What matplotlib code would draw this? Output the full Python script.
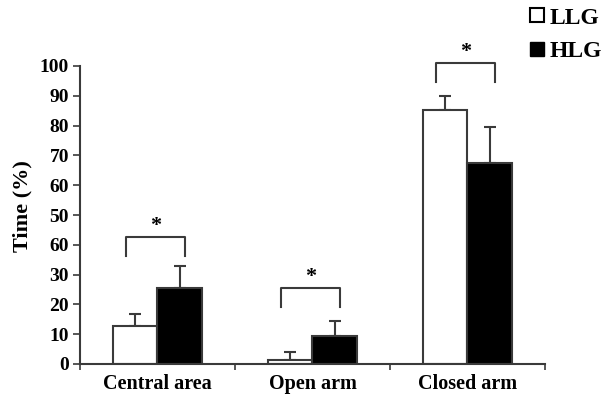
import numpy as np
import matplotlib
matplotlib.use('Agg')
import matplotlib.pyplot as plt
from matplotlib.lines import Line2D

plt.rcParams['font.family'] = 'Liberation Serif'
plt.rcParams['font.weight'] = 'bold'

# data
groups = ['Central area', 'Open arm', 'Closed arm']
llg = [12.8, 1.3, 85.2]
llg_err = [4.0, 2.7, 4.8]
hlg = [25.5, 9.4, 67.4]
hlg_err = [7.4, 5.0, 12.1]
yticks = [0, 10, 20, 30, 40, 50, 60, 70, 80, 90, 100]
ytick_labels = ['0', '10', '20', '30', '60', '50', '60', '70', '80', '90', '100']
# significance brackets, top height per group
bracket_top = [42.5, 25.5, 101.0]
bracket_drop = 6.3

edge = '#3a3a3a'
fig = plt.figure(figsize=(6.09, 3.98), dpi=100)
ax = fig.add_axes([80/609, 1-364/398, 465/609, 298/398])

x = np.arange(len(groups))
w = 0.29
ax.bar(x - w/2, llg, w, color='white', edgecolor=edge, linewidth=1.5, zorder=2)
ax.bar(x + w/2, hlg, w, color='black', edgecolor=edge, linewidth=1.5, zorder=2)
ax.errorbar(x - w/2, llg, yerr=[np.zeros(3), llg_err], fmt='none', ecolor=edge,
            elinewidth=1.5, capsize=4, capthick=1.5, zorder=1)
ax.errorbar(x + w/2, hlg, yerr=[np.zeros(3), hlg_err], fmt='none', ecolor=edge,
            elinewidth=1.5, capsize=4, capthick=1.5, zorder=1)

for xi, top in zip(x, bracket_top):
    xl, xr = xi - 0.2, xi + 0.18
    ax.plot([xl, xl, xr, xr], [top - bracket_drop, top, top, top - bracket_drop],
            color=edge, lw=1.5, clip_on=False)
    ax.text((xl + xr)/2, top + 0.3, '*', ha='center', va='bottom', fontsize=16,
            fontweight='bold', clip_on=False)

ax.set_xlim(-0.5, 2.5)
ax.set_ylim(0, 100)
ax.set_yticks(yticks)
ax.set_yticklabels(ytick_labels, fontsize=14, fontweight='bold')
ax.set_xticks([-0.5, 0.5, 1.5, 2.5])
ax.set_xticklabels([])
ax.set_xticks(x, minor=True)
ax.set_xticklabels(groups, minor=True, fontsize=14.5, fontweight='bold', va='baseline')
ax.tick_params(axis='x', which='minor', length=0, pad=18)
ax.tick_params(axis='x', which='major', length=4, width=1.2, color=edge)
ax.tick_params(axis='y', length=5, width=1.2, color=edge, pad=3)
ax.set_ylabel('Time (%)', fontsize=16, fontweight='bold')
ax.yaxis.set_label_coords(-0.103, 0.53)

for s in ['top', 'right']:
    ax.spines[s].set_visible(False)
for s in ['left', 'bottom']:
    ax.spines[s].set_color(edge)
    ax.spines[s].set_linewidth(1.5)

handles = [Line2D([], [], marker='s', ls='none', markersize=9.5, markerfacecolor='white',
                  markeredgecolor='black', markeredgewidth=1.5),
           Line2D([], [], marker='s', ls='none', markersize=9.5, markerfacecolor='black',
                  markeredgecolor='black')]
fig.legend(handles, ['LLG', 'HLG'], loc='upper right', bbox_to_anchor=(1.0, 1.0),
           borderaxespad=0.1, borderpad=0.2,
           frameon=False, handlelength=0.7, handletextpad=0.2, labelspacing=0.5,
           prop={'family': 'Liberation Serif', 'weight': 'bold', 'size': 17})

fig.savefig('out.png', dpi=100)
